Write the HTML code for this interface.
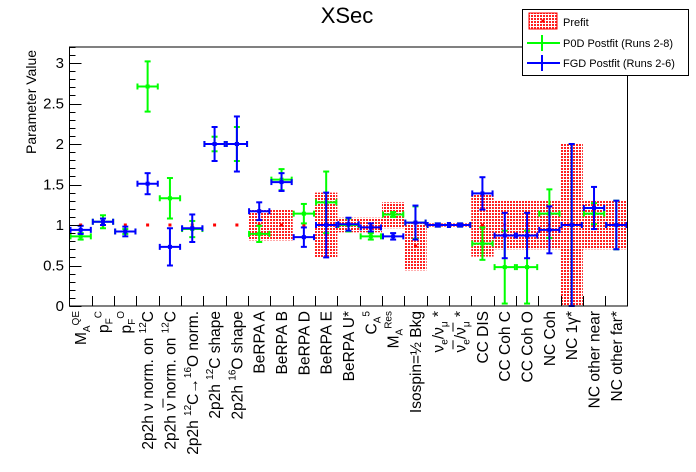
<!DOCTYPE html>
<html><head><meta charset="utf-8"><style>
html,body{margin:0;padding:0;background:#fff;}
svg{display:block;font-family:"Liberation Sans",Arial,sans-serif;}
</style></head><body>
<svg id="chart" width="696" height="472" viewBox="0 0 696 472" xmlns="http://www.w3.org/2000/svg">
<defs>
<pattern id="dots" width="3" height="3" patternUnits="userSpaceOnUse">
<rect width="3" height="3" fill="#fff" shape-rendering="crispEdges"/>
<rect x="0" y="0" width="2" height="2" fill="#ff2020" shape-rendering="crispEdges"/>
</pattern>
</defs>
<text x="347" y="23" font-size="22" text-anchor="middle">XSec</text>
<text transform="translate(36,102) rotate(-90)" font-size="14" text-anchor="middle">Parameter Value</text>
<g id="plot"></g>
<g id="legend">
<rect x="522.5" y="9.5" width="166" height="66" fill="#fff" stroke="#000" stroke-width="1"/>
<g>
<rect x="529" y="13" width="28" height="16" fill="url(#dots)" stroke="#ff0000" stroke-width="1"/>
<rect x="541.5" y="19.5" width="3" height="3" fill="#ff0000"/>
<text x="563" y="26" font-size="11">Prefit</text>
</g>
<g>
<line x1="527" y1="43" x2="560" y2="43" stroke="#00ff00" stroke-width="2"/>
<line x1="542" y1="35" x2="542" y2="51" stroke="#00ff00" stroke-width="2"/>
<text x="563" y="47" font-size="11">P0D Postfit (Runs 2-8)</text>
</g>
<g>
<line x1="527" y1="63" x2="560" y2="63" stroke="#0000ff" stroke-width="2"/>
<line x1="542" y1="55" x2="542" y2="71" stroke="#0000ff" stroke-width="2"/>
<text x="563" y="67" font-size="11">FGD Postfit (Runs 2-6)</text>
</g>
</g>
</svg>
<script>
var categories = ["M_{A}^{QE}","p_{F}^{C}","p_{F}^{O}","2p2h ν norm. on ^{12}C","2p2h ν̅ norm. on ^{12}C","2p2h ^{12}C→^{16}O norm.","2p2h ^{12}C shape","2p2h ^{16}O shape","BeRPA A","BeRPA B","BeRPA D","BeRPA E","BeRPA U*","C_{A}^{5}","M_{A}^{Res}","Isospin=½ Bkg","ν_{e}/ν_{μ} *","ν̅_{e}/ν̅_{μ} *","CC DIS","CC Coh C","CC Coh O","NC Coh","NC 1γ*","NC other near","NC other far*"];
var prefitValues = [1,1,1,1,1,1,1,1,1,1,1,1,1,1,1.12,0.74,1,1,1,1,1,1,1,1,1];
var prefitErrors = [0,0,0,0,0,0,0,0,0.19,0.19,0,0.4,0.09,0.09,0.16,0.3,0.02,0.02,0.39,0.3,0.3,0.3,1.0,0.3,0.3];
var p0dValues = [0.86,1.04,0.92,2.71,1.33,0.95,2.0,2.0,0.89,1.56,1.14,1.28,1.0,0.86,1.13,1.03,1.0,1.0,0.77,0.48,0.48,1.14,1.0,1.14,1.0];
var p0dErrors = [0.04,0.08,0.03,0.31,0.25,0.1,0.09,0.21,0.1,0.13,0.12,0.38,0.08,0.04,0.03,0.2,0.02,0.02,0.2,0.45,0.45,0.3,1.0,0.13,0.3];
var fgdValues = [0.94,1.04,0.92,1.51,0.73,0.96,2.0,2.0,1.17,1.53,0.85,1.0,1.01,0.97,0.86,1.03,1.0,1.0,1.39,0.87,0.87,0.94,1.0,1.21,1.0];
var fgdErrors = [0.05,0.04,0.06,0.13,0.23,0.17,0.21,0.34,0.11,0.11,0.12,0.4,0.08,0.05,0.04,0.21,0.02,0.02,0.2,0.28,0.28,0.29,1.0,0.26,0.3];
var yTicks = [0,0.5,1,1.5,2,2.5,3];
var yTickLabels = ["0","0.5","1","1.5","2","2.5","3"];

var NS="http://www.w3.org/2000/svg";
var X0=69.5, X1=627.5, Y0=306, Y1=47, YMAX=(306-47)/81;
var bw=(X1-X0)/categories.length;
function xC(i){return X0+bw*(i+0.5);}
function xL(i){return X0+bw*i;}
function yS(v){return Y0-81*Math.max(0,Math.min(YMAX,v));}
var g=document.getElementById('plot');
function mk(tag,attrs,parent){var e=document.createElementNS(NS,tag);for(var k in attrs)e.setAttribute(k,attrs[k]);(parent||g).appendChild(e);return e;}

var pg=mk('g',{});


categories.forEach(function(c,i){
  if(prefitErrors[i]>0){
    var r=mk('rect',{x:xL(i),y:yS(prefitValues[i]+prefitErrors[i]),width:bw,height:yS(prefitValues[i]-prefitErrors[i])-yS(prefitValues[i]+prefitErrors[i]),fill:'url(#dots)'},pg);
    
    
  }
  var d=mk('rect',{x:xC(i)-1.5,y:yS(prefitValues[i])-1.5,width:3,height:3,fill:'#ff0000'},pg);
  
  
});

function series(vals,errs,color,name){
  var sg=mk('g',{stroke:color,'stroke-width':2,fill:'none'});
  
  
  vals.forEach(function(v,i){
    var pt=mk('g',{},sg);
    
    
    var x=xC(i),y=yS(v),a=xL(i)+1,b=xL(i+1)-1;
    var yt=yS(v+errs[i]),yb=yS(v-errs[i]);
    mk('line',{x1:a,y1:y,x2:b,y2:y},pt);
    mk('line',{x1:a,y1:y-3,x2:a,y2:y+3},pt);
    mk('line',{x1:b,y1:y-3,x2:b,y2:y+3},pt);
    mk('line',{x1:x,y1:yt,x2:x,y2:yb},pt);
    mk('line',{x1:x-3,y1:yt,x2:x+3,y2:yt},pt);
    mk('line',{x1:x-3,y1:yb,x2:x+3,y2:yb},pt);
    mk('rect',{x:x-2,y:y-2,width:4,height:4,fill:color,stroke:'none'},pt);
  });
}
series(p0dValues,p0dErrors,'#00ff00','p0d-postfit');
series(fgdValues,fgdErrors,'#0000ff','fgd-postfit');

var fr=mk('rect',{x:X0,y:Y1,width:X1-X0,height:Y0-Y1,fill:'none',stroke:'#000','stroke-width':1});



var ya=mk('g',{stroke:'#000','stroke-width':1});


for(var t=0;t<=32;t++){var v=t/10;var yy=Math.round(yS(v))+0.5;var len=(t%5===0)?12:6;mk('line',{x1:X0,y1:yy,x2:X0+len,y2:yy},ya);}
yTicks.forEach(function(v,i){
  var tx=mk('text',{x:64,y:yS(v)+5,'font-size':15,'text-anchor':'end',stroke:'none',fill:'#000'},ya);
  tx.textContent=yTickLabels[i];
  
  
});

var xa=mk('g',{});


for(var i=1;i<categories.length;i++){var xx=Math.round(xL(i))+0.5;mk('line',{x1:xx,y1:Y0,x2:xx,y2:Y0-10,stroke:'#000','stroke-width':1},xa);}
function addLabel(i,str){
  var tx=mk('text',{transform:'translate('+(xC(i)+5.5)+',311) rotate(-90)','font-size':15.5,'text-anchor':'end',fill:'#000'},xa);
  
  
  var re=/(\^|_)\{([^}]*)\}/g;
  var last=0,m;
  while((m=re.exec(str))!==null){
    if(m.index>last){var s=mk('tspan',{},tx);s.textContent=str.slice(last,m.index);}
    var isSup=m[1]==='^';
    var s2=mk('tspan',{'font-size':10,dy:isSup?-7:4},tx);
    s2.textContent=m[2];
    var s3=mk('tspan',{'font-size':15.5,dy:isSup?7:-4},tx);s3.textContent='\u200b';
    last=m.index+m[0].length;
  }
  if(last<str.length){var s4=mk('tspan',{},tx);s4.textContent=str.slice(last);}
}
categories.forEach(function(c,i){addLabel(i,c);});
</script>
</body></html>
